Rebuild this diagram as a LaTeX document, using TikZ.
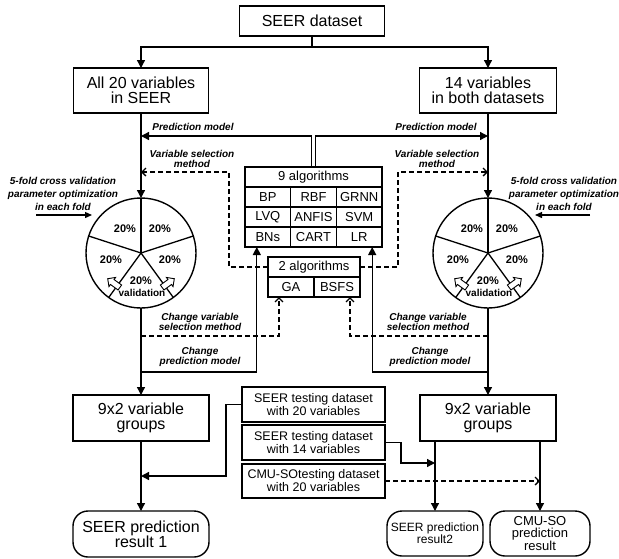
\documentclass[tikz,border=0pt]{standalone}
\usepackage{fontspec}
\setmainfont{Liberation Sans}
\usetikzlibrary{arrows.meta, positioning}
\usetikzlibrary{shapes.arrows}

\begin{document}
\begin{tikzpicture}[x=1pt, y=-1pt,
    every node/.style={outer sep=0pt},
    box/.style={draw, line width=1.4pt, align=center, inner sep=1pt,
        font=\fontsize{16}{15}\selectfont},
    testbox/.style={box, minimum width=143pt, minimum height=35pt,
        font=\fontsize{12.5}{13}\selectfont},
    result/.style={box, rounded corners=15pt, minimum height=45pt},
    cell/.style={draw, line width=1.3pt, minimum width=45.7pt, minimum height=20pt,
        inner sep=0pt, font=\fontsize{13}{13}\selectfont},
    note/.style={font=\bfseries\itshape\fontsize{10}{10}\selectfont, align=center, inner sep=0pt},
    pct/.style={font=\bfseries\fontsize{11}{11}\selectfont, inner sep=0pt},
    pie/.style={circle, draw, line width=1.4pt, minimum size=110pt, inner sep=0pt},
    hollow/.style={single arrow, draw, fill=white, line width=0.9pt, minimum height=15pt,
        inner sep=2.6pt, single arrow head extend=2.6pt},
    arr/.style={line width=1.3pt, -{Triangle[length=8pt, width=8pt]}},
    darr/.style={line width=1.3pt, dash pattern=on 5pt off 3pt,
        -{Straight Barb[length=4pt, width=8pt]}}]

    \useasboundingbox (0,0) rectangle (619,558);

    % top part
    \node[box, minimum width=145pt, minimum height=30pt] (seer) at (312,21) {SEER dataset};
    \node[box, minimum width=135pt, minimum height=45pt] (all20) at (141,90.5) {All 20 variables\\in SEER};
    \node[box, minimum width=137pt, minimum height=45pt] (v14) at (488,90.5) {14 variables\\in both datasets};

    \coordinate (split) at (312,47);
    \draw[arr] (seer.south) -- (split) -| (all20.north);
    \draw[arr] (split) -| (v14.north);

    % algorithm tables
    \node[cell, minimum width=137.1pt] (alg9h) at (313.5,177) {9 algorithms};
    \node[cell, anchor=north west] (bp) at (alg9h.south west) {BP};
    \node[cell, right=0pt of bp] (rbf) {RBF};
    \node[cell, right=0pt of rbf] (grnn) {GRNN};
    \node[cell, below=0pt of bp] (lvq) {LVQ};
    \node[cell, right=0pt of lvq] (anfis) {ANFIS};
    \node[cell, right=0pt of anfis] (svm) {SVM};
    \node[cell, below=0pt of lvq] (bns) {BNs};
    \node[cell, right=0pt of bns] (cart) {CART};
    \node[cell, right=0pt of cart] (lr) {LR};

    \node[cell, minimum width=92pt] (alg2h) at (314,267) {2 algorithms};
    \node[cell, minimum width=46pt, anchor=north west] (ga) at (alg2h.south west) {GA};
    \node[cell, minimum width=46pt, right=0pt of ga] (bsfs) {BSFS};

    \coordinate (pmL) at (141,136);
    \coordinate (pmR) at (488,136);
    \draw[arr] ([xshift=-2pt]alg9h.north) |- (pmL);
    \draw[arr] ([xshift=2pt]alg9h.north) |- (pmR);
    \node[note] (pmLl) at (193,127) {Prediction model};
    \node[note] (pmRl) at (436,127) {Prediction model};

    \coordinate (vsL) at (141,172);
    \coordinate (vsR) at (488,172);
    \coordinate (vsLc) at (229,172);
    \coordinate (vsRc) at (398,172);
    \draw[darr] (alg2h.west) -| (vsLc) -- (vsL);
    \draw[darr] (alg2h.east) -| (vsRc) -- (vsR);
    \node[note] (vsLl) at (192,159) {Variable selection\\method};
    \node[note] (vsRl) at (437,159) {Variable selection\\method};

    % cross validation pies
    \foreach \p/\cx in {pieL/141, pieR/488} {
        \node[pie] (\p) at (\cx,253) {};
        \foreach \a in {90,162,234,306,18}
            \draw[line width=1.3pt] (\p.center) -- (\p.\a);
        \node[pct] (\p-a) at (\cx-16,229) {20\%};
        \node[pct] (\p-b) at (\cx+19,229) {20\%};
        \node[pct] (\p-c) at (\cx-30,260) {20\%};
        \node[pct] (\p-d) at (\cx+29,260) {20\%};
        \node[pct] (\p-e) at (\cx,281) {20\%};
        \node[pct, font=\bfseries\fontsize{10}{10}\selectfont] (\p-v) at (\cx+1,293) {validation};
        \node[hollow, rotate=144] (\p-h1) at (\cx-26,284) {};
        \node[hollow, rotate=36] (\p-h2) at (\cx+26,284) {};
    }
    \draw[arr] (all20.south) -- (pieL.north);
    \draw[arr] (v14.south) -- (pieR.north);

    \node[note, font=\bfseries\itshape\fontsize{10}{13}\selectfont] (cvtL) at (63,194)
        {5-fold cross validation\\parameter optimization\\in each fold};
    \node[note, font=\bfseries\itshape\fontsize{10}{13}\selectfont] (cvtR) at (564,194)
        {5-fold cross validation\\parameter optimization\\in each fold};
    \coordinate (cvaL) at (36,215);
    \coordinate (cvaR) at (590,215);
    \draw[line width=1.3pt, -{Triangle[length=7pt, width=6pt]}] (cvaL) -- ++(56,0);
    \draw[line width=1.3pt, -{Triangle[length=7pt, width=6pt]}] (cvaR) -- ++(-55,0);

    % feedback to the tables
    \coordinate (chvL) at (141,336);
    \coordinate (chvR) at (488,336);
    \coordinate (chpL) at (141,372);
    \coordinate (chpR) at (488,372);
    \draw[darr] (chvL) -| ([xshift=-12pt]ga.south);
    \draw[darr] (chvR) -| ([xshift=13pt]bsfs.south);
    \draw[arr] (chpL) -| ([xshift=-11pt]bns.south);
    \draw[arr] (chpR) -| ([xshift=13pt]lr.south);
    \node[note] (chvLl) at (200,322) {Change variable\\selection method};
    \node[note] (chvRl) at (428,322) {Change variable\\selection method};
    \node[note] (chpLl) at (200,357) {Change\\prediction model};
    \node[note] (chpRl) at (430,357) {Change\\prediction model};

    % bottom part
    \node[box, minimum width=136pt, minimum height=46pt] (grpL) at (141,418) {9x2 variable\\groups};
    \node[box, minimum width=136pt, minimum height=46pt] (grpR) at (488,418) {9x2 variable\\groups};
    \draw[arr] (pieL.south) -- (grpL.north);
    \draw[arr] (pieR.south) -- (grpR.north);

    \node[testbox] (test20) at (313.5,404.5) {SEER testing dataset\\with 20 variables};
    \node[testbox] (test14) at (313.5,442.5) {SEER testing dataset\\with 14 variables};
    \node[testbox, minimum height=34pt] (testCMU) at (313.5,481) {CMU-SOtesting dataset\\with 20 variables};

    \node[result, minimum width=136pt, minimum height=46pt] (resL) at (141,534) {SEER prediction\\result 1};
    \node[result, minimum width=96pt, font=\fontsize{12}{12}\selectfont] (resR2) at (435,533.5) {SEER prediction\\result2};
    \node[result, minimum width=100pt, font=\fontsize{13}{12}\selectfont] (resCMU) at (540,533.5) {CMU-SO\\prediction\\result};

    \coordinate (jL) at (226,476);
    \coordinate (jR) at (401,463);
    \draw[arr] (grpL.south) -- (resL.north);
    \draw[arr] (test20.west) -| (jL) -- (grpL.south |- jL);
    \draw[arr] (resR2.north |- grpR.south) -- (resR2.north);
    \draw[arr] (resCMU.north |- grpR.south) -- (resCMU.north);
    \draw[arr] (test14.east) -| (jR) -- (resR2.north |- jR);
    \draw[darr] (testCMU.east) -- (resCMU.north |- testCMU.east);

\end{tikzpicture}
\end{document}
